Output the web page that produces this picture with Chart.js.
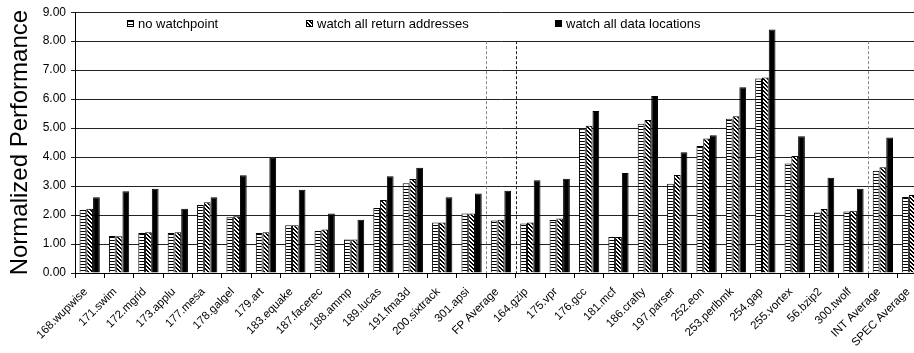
<!DOCTYPE html>
<html>
<head>
<meta charset="utf-8">
<script src="https://cdn.jsdelivr.net/npm/chart.js@4.4.1/dist/chart.umd.min.js"></script>
<style>
    html, body { margin: 0; padding: 0; background: #fff; overflow: hidden; }
    #chartContainer { position: relative; width: 929px; height: 353px; }
</style>
</head>
<body>
<div id="chartContainer"><canvas id="watchChart"></canvas></div>
<script>
const benchmarks = ['168.wupwise', '171.swim', '172.mgrid', '173.applu', '177.mesa', '178.galgel',
    '179.art', '183.equake', '187.facerec', '188.ammp', '189.lucas', '191.fma3d', '200.sixtrack',
    '301.apsi', 'FP Average', '164.gzip', '175.vpr', '176.gcc', '181.mcf', '186.crafty',
    '197.parser', '252.eon', '253.perlbmk', '254.gap', '255.vortex', '56.bzip2', '300.twolf',
    'INT Average', 'SPEC Average'];

const noWatchpoint = [2.17, 1.28, 1.38, 1.38, 2.35, 1.92, 1.38, 1.65, 1.45, 1.16, 2.24, 3.10, 1.74,
    2.05, 1.81, 1.71, 1.83, 4.99, 1.24, 5.15, 3.08, 4.38, 5.32, 6.71, 3.78, 2.09, 2.12, 3.53, 2.62];
const watchReturn = [2.22, 1.27, 1.41, 1.41, 2.44, 1.96, 1.41, 1.65, 1.50, 1.16, 2.52, 3.24, 1.74,
    2.05, 1.84, 1.74, 1.88, 5.08, 1.24, 5.28, 3.38, 4.64, 5.41, 6.75, 4.04, 2.21, 2.15, 3.65, 2.69];
const watchData = [2.61, 2.82, 2.91, 2.22, 2.61, 3.37, 3.98, 2.87, 2.05, 1.84, 3.34, 3.63, 2.61,
    2.74, 2.84, 3.20, 3.25, 5.59, 3.45, 6.11, 4.17, 4.75, 6.41, 8.40, 4.72, 3.29, 2.91, 4.68, 3.70];

// group separators: dashed line before these categories
const separators = [14, 15, 27];

const FONT = "'Liberation Sans', Arial, sans-serif";

const makeStripes = () => {
    const c = document.createElement('canvas');
    c.width = 3; c.height = 3;
    const g = c.getContext('2d');
    g.fillStyle = '#fff';
    g.fillRect(0, 0, 3, 3);
    g.fillStyle = '#000';
    g.fillRect(0, 0, 3, 1);
    return g.createPattern(c, 'repeat');
};

const makeHatch = () => {
    const c = document.createElement('canvas');
    c.width = 4; c.height = 4;
    const g = c.getContext('2d');
    g.fillStyle = '#fff';
    g.fillRect(0, 0, 4, 4);
    g.fillStyle = '#000';
    for (let i = 0; i < 4; i++) {
        g.fillRect(i, i, 1, 1);
        g.fillRect((i + 1) % 4, i, 1, 1);
    }
    return g.createPattern(c, 'repeat');
};

const stripes = makeStripes();
const hatch = makeHatch();

const separatorPlugin = {
    id: 'separators',
    afterDatasetsDraw(chart) {
        const x = chart.scales.x;
        const y = chart.scales.y;
        const ctx = chart.ctx;
        ctx.save();
        ctx.lineWidth = 1;
        ctx.setLineDash([3, 2]);
        separators.forEach((b, i) => {
            const px = Math.round((x.getPixelForValue(b - 1) + x.getPixelForValue(b)) / 2) + 0.5;
            ctx.strokeStyle = i === 1 ? '#222' : '#888';
            ctx.beginPath();
            ctx.moveTo(px, y.getPixelForValue(8));
            ctx.lineTo(px, y.getPixelForValue(0));
            ctx.stroke();
        });
        ctx.restore();
    },
};

const legendPlugin = {
    id: 'insideLegend',
    afterDraw(chart) {
        const ctx = chart.ctx;
        const items = [
            { x: 127, text: 'no watchpoint', fill: stripes },
            { x: 306, text: 'watch all return addresses', fill: hatch },
            { x: 555, text: 'watch all data locations', fill: '#000' },
        ];
        ctx.save();
        ctx.font = '13px ' + FONT;
        ctx.textBaseline = 'alphabetic';
        items.forEach((it) => {
            ctx.fillStyle = it.fill;
            ctx.fillRect(it.x, 20, 7, 7);
            ctx.strokeStyle = '#000';
            ctx.lineWidth = 1;
            ctx.strokeRect(it.x + 0.5, 20.5, 6, 6);
            ctx.fillStyle = '#000';
            ctx.fillText(it.text, it.x + 11, 28);
        });
        ctx.restore();
    },
};

const ctx = document.getElementById('watchChart');
const myChart = new Chart(ctx, {
    type: 'bar',
    data: {
        labels: benchmarks,
        datasets: [
            {
                label: 'no watchpoint',
                data: noWatchpoint,
                backgroundColor: stripes,
                borderColor: '#000',
                borderWidth: 1,
            },
            {
                label: 'watch all return addresses',
                data: watchReturn,
                backgroundColor: hatch,
                borderColor: '#000',
                borderWidth: 1,
            },
            {
                label: 'watch all data locations',
                data: watchData,
                backgroundColor: '#000',
                borderColor: '#000',
                borderWidth: 1,
            },
        ],
    },
    options: {
        responsive: true,
        maintainAspectRatio: false,
        animation: false,
        layout: { padding: { top: 8, right: 0, left: 0, bottom: 0 } },
        datasets: {
            bar: { barPercentage: 1.0, categoryPercentage: 0.69 },
        },
        plugins: {
            legend: { display: false },
            tooltip: { enabled: false },
        },
        scales: {
            x: {
                grid: {
                    offset: true,
                    drawOnChartArea: false,
                    drawTicks: true,
                    tickLength: 5,
                    color: '#000',
                },
                border: { color: '#000' },
                ticks: {
                    minRotation: 45,
                    maxRotation: 45,
                    autoSkip: false,
                    padding: 7,
                    labelOffset: -4,
                    color: '#000',
                    font: { family: FONT, size: 11.5 },
                },
                afterFit: (axis) => { axis.height = 80; },
            },
            y: {
                min: 0,
                max: 9,
                grid: {
                    color: '#222',
                    tickLength: 4,
                },
                border: { color: '#000' },
                ticks: {
                    stepSize: 1,
                    padding: 5,
                    color: '#000',
                    font: { family: FONT, size: 12 },
                    callback: (v) => v.toFixed(2),
                },
                title: {
                    display: true,
                    text: 'Normalized Performance',
                    color: '#000',
                    font: { family: FONT, size: 24 },
                    padding: { top: 6, bottom: 0 },
                },
                afterFit: (axis) => { axis.width = 75; },
            },
        },
    },
    plugins: [separatorPlugin, legendPlugin],
});
</script>
</body>
</html>
